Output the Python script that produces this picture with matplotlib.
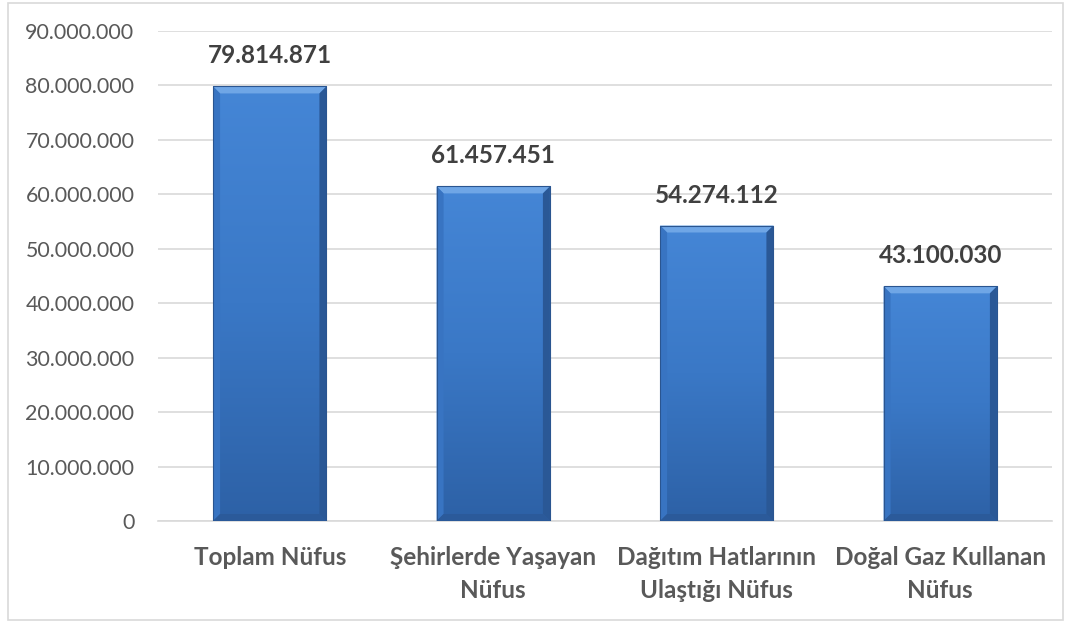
import matplotlib
matplotlib.use("Agg")
import matplotlib.pyplot as plt
import numpy as np
from matplotlib.patches import Polygon, Rectangle
from matplotlib.ticker import FuncFormatter, MultipleLocator
from matplotlib.colors import LinearSegmentedColormap

categories = ["Toplam Nüfus", "Şehirlerde Yaşayan\nNüfus", "Dağıtım Hatlarının\nUlaştığı Nüfus", "Doğal Gaz Kullanan\nNüfus"]
values = [79814871, 61457451, 54274112, 43100030]
value_labels = ["79.814.871", "61.457.451", "54.274.112", "43.100.030"]

plt.rcParams['font.family'] = ['Lato', 'DejaVu Sans']

W, H = 1066, 622
fig = plt.figure(figsize=(W / 100, H / 100), dpi=100)
ax = fig.add_axes([158 / W, 1 - 521 / H, (1052 - 158) / W, (521 - 31) / H])

x = np.arange(len(categories))
width = 0.507
bars = ax.bar(x, values, width=width, color='none', edgecolor='none', zorder=3)
ax.set_xlim(-0.5, len(categories) - 0.5)
ax.set_ylim(0, 90000000)
ax.yaxis.set_major_locator(MultipleLocator(10000000))
ax.yaxis.set_major_formatter(FuncFormatter(lambda v, p: f"{int(v):,}".replace(",", ".")))
ax.grid(axis='y', color='#d9d9d9', linewidth=1.2, zorder=0)
ax.set_axisbelow(True)
for s in ['top', 'right', 'left']:
    ax.spines[s].set_visible(False)
ax.spines['bottom'].set_color('#d9d9d9')
ax.spines['bottom'].set_linewidth(1.2)
ax.tick_params(axis='y', length=0, pad=17, labelsize=15.4, labelcolor='#595959')
ax.tick_params(axis='x', length=0, pad=18)
ax.set_xticks(x)
ax.set_xticklabels(categories, fontsize=17.5, fontweight='bold', color='#595959', linespacing=1.5)

# bar shading
cmap = LinearSegmentedColormap.from_list('b', ['#2d61a6', '#3a78c6', '#4586d6'])
ppx = ax.transData.transform((1, 0))[0] - ax.transData.transform((0, 0))[0]
ppy = ax.transData.transform((0, 1e7))[1] - ax.transData.transform((0, 0))[1]
bx = 7 / ppx
by = 7 / ppy * 1e7
grad = np.linspace(0, 1, 256).reshape(-1, 1)
for rect, lab in zip(bars, value_labels):
    x0 = rect.get_x(); x1 = x0 + rect.get_width(); h = rect.get_height()
    clip = Rectangle((x0, 0), x1 - x0, h, transform=ax.transData)
    im = ax.imshow(grad, extent=[x0, x1, 0, h], origin='lower', cmap=cmap, aspect='auto', zorder=3)
    im.set_clip_path(clip)
    # bevels
    ax.add_patch(Polygon([(x0, h), (x1, h), (x1 - bx, h - by), (x0 + bx, h - by)], closed=True,
                         facecolor='#6fa6e6', edgecolor='none', zorder=4))
    ax.add_patch(Polygon([(x0, 0), (x0, h), (x0 + bx, h - by), (x0 + bx, by)], closed=True,
                         facecolor='#3874c2', edgecolor='none', zorder=4))
    ax.add_patch(Polygon([(x1, 0), (x1, h), (x1 - bx, h - by), (x1 - bx, by)], closed=True,
                         facecolor='#2a5896', edgecolor='none', zorder=4))
    ax.add_patch(Polygon([(x0, 0), (x1, 0), (x1 - bx, by), (x0 + bx, by)], closed=True,
                         facecolor='#2b5a9a', edgecolor='none', zorder=4))
    ax.add_patch(Rectangle((x0, 0), x1 - x0, h, facecolor='none', edgecolor='#2a5590',
                           linewidth=0.8, zorder=5))
    ax.annotate(lab, (rect.get_x() + rect.get_width() / 2, h), xytext=(0, 19),
                textcoords='offset pixels', ha='center', va='bottom', fontsize=17.5,
                fontweight='bold', color='#404040', zorder=6)
ax.set_xlim(-0.5, len(categories) - 0.5)
ax.set_ylim(0, 90000000)

# outer border
fig.patches.append(Rectangle((8 / W, 2 / H), (1063 - 8) / W, (619 - 2) / H, transform=fig.transFigure,
                             facecolor='none', edgecolor='#d9d9d9', linewidth=1.2))

fig.savefig('out.png', dpi=100)
